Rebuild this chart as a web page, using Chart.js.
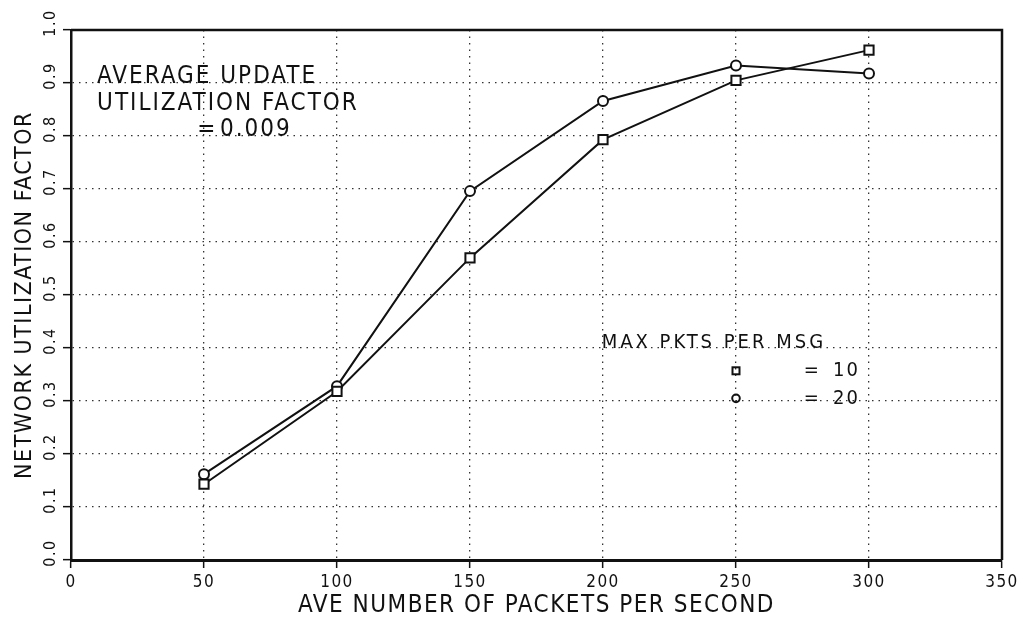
<!DOCTYPE html>
<html>
<head>
<meta charset="utf-8">
<title>Network utilization factor</title>
<script src="https://cdn.jsdelivr.net/npm/chart.js@4/dist/chart.umd.min.js"></script>
<style>
    html, body { margin: 0; padding: 0; background: #fff; }
    #wrap { width: 1023px; height: 628px; position: relative; }
</style>
</head>
<body>
<div id="wrap"><canvas id="utilChart"></canvas></div>
<script>
// Packet rate (x) and utilization for the two message sizes
const packetRates = [50, 100, 150, 200, 250, 300];
const util10 = [0.143, 0.318, 0.570, 0.793, 0.905, 0.962];
const util20 = [0.162, 0.328, 0.696, 0.866, 0.933, 0.918];

const xTickValues = [0, 50, 100, 150, 200, 250, 300, 350];
const yTickValues = [0.0, 0.1, 0.2, 0.3, 0.4, 0.5, 0.6, 0.7, 0.8, 0.9, 1.0];

const noteLines = ['AVERAGE UPDATE', 'UTILIZATION FACTOR', '0.009'];
const legendTitle = 'MAX PKTS PER MSG';
const legendLabels = ['10', '20'];

const INK = '#111';
const FONT = "'DejaVu Sans Condensed', 'DejaVu Sans', sans-serif";

Chart.defaults.font.family = FONT;
Chart.defaults.color = INK;

function toPoints(xs, ys) {
    return xs.map((x, i) => ({ x: x, y: ys[i] }));
}

// plotter lettering is widely spaced
const spacingPlugin = {
    id: 'spacing',
    beforeDraw(chart) {
        chart.ctx.letterSpacing = '1.5px';
    }
};

// box around the plot plus the text notes and the key
const framePlugin = {
    id: 'frame',
    afterDatasetsDraw(chart) {
        const { ctx, chartArea: a, scales: { x, y } } = chart;
        ctx.save();
        ctx.strokeStyle = INK;
        ctx.lineWidth = 2.5;
        ctx.beginPath();
        ctx.moveTo(a.left, a.top);
        ctx.lineTo(a.right, a.top);
        ctx.lineTo(a.right, a.bottom);
        ctx.stroke();

        ctx.fillStyle = INK;
        ctx.textBaseline = 'alphabetic';
        ctx.textAlign = 'left';
        ctx.letterSpacing = '2px';
        ctx.font = '24px ' + FONT;
        ctx.fillText(noteLines[0], x.getPixelForValue(9.8), y.getPixelForValue(0.9));
        ctx.fillText(noteLines[1], x.getPixelForValue(9.8), y.getPixelForValue(0.849));
        ctx.fillText('=', x.getPixelForValue(47.5), y.getPixelForValue(0.8));
        ctx.fillText(noteLines[2], x.getPixelForValue(56), y.getPixelForValue(0.8));

        // key
        ctx.font = '20px ' + FONT;
        ctx.letterSpacing = '3px';
        ctx.fillText(legendTitle, x.getPixelForValue(199.5), y.getPixelForValue(0.4));
        const mx = x.getPixelForValue(250);
        const rowY = [y.getPixelForValue(0.357), y.getPixelForValue(0.305)];
        ctx.lineWidth = 2;
        ctx.strokeRect(mx - 3.5, rowY[0] - 3.5, 7, 7);
        ctx.beginPath();
        ctx.arc(mx, rowY[1], 3.8, 0, Math.PI * 2);
        ctx.stroke();
        ctx.textBaseline = 'middle';
        ctx.letterSpacing = '2px';
        legendLabels.forEach((t, i) => {
            ctx.fillText('=', x.getPixelForValue(275.5), rowY[i]);
            ctx.fillText(t, x.getPixelForValue(286.5), rowY[i]);
        });
        ctx.restore();
    }
};

const ctx = document.getElementById('utilChart').getContext('2d');
new Chart(ctx, {
    type: 'line',
    data: {
        datasets: [
            {
                label: '10',
                data: toPoints(packetRates, util10),
                borderColor: INK,
                borderWidth: 2,
                tension: 0,
                pointStyle: 'rect',
                pointRadius: 6.5,
                pointBorderWidth: 2,
                pointBorderColor: INK,
                pointBackgroundColor: '#fff'
            },
            {
                label: '20',
                data: toPoints(packetRates, util20),
                borderColor: INK,
                borderWidth: 2,
                tension: 0,
                pointStyle: 'circle',
                pointRadius: 5,
                pointBorderWidth: 2,
                pointBorderColor: INK,
                pointBackgroundColor: '#fff'
            }
        ]
    },
    options: {
        responsive: true,
        maintainAspectRatio: false,
        animation: false,
        layout: { padding: { top: 30, right: 21, bottom: 0, left: 0 } },
        plugins: {
            legend: { display: false },
            tooltip: { enabled: false }
        },
        scales: {
            x: {
                type: 'linear',
                min: 0,
                max: 350,
                afterFit: (scale) => { scale.height = 68; },
                afterBuildTicks: (scale) => {
                    scale.ticks = xTickValues.map(v => ({ value: v }));
                },
                ticks: {
                    autoSkip: false,
                    maxRotation: 0,
                    padding: 4,
                    font: { size: 17 },
                    color: INK
                },
                grid: {
                    color: '#333',
                    lineWidth: 1.3,
                    tickLength: 8,
                    tickColor: INK,
                    tickWidth: 1.5
                },
                border: { display: true, color: INK, width: 3, dash: [1.5, 5] },
                title: {
                    display: true,
                    text: 'AVE NUMBER OF PACKETS PER SECOND',
                    font: { size: 24 },
                    color: INK,
                    padding: { top: 0, bottom: 8 }
                }
            },
            y: {
                type: 'linear',
                min: 0,
                max: 1,
                afterFit: (scale) => { scale.width = 71; },
                afterBuildTicks: (scale) => {
                    scale.ticks = yTickValues.map(v => ({ value: v }));
                },
                ticks: {
                    autoSkip: false,
                    minRotation: 90,
                    maxRotation: 90,
                    crossAlign: 'center',
                    padding: 1,
                    labelOffset: -7,
                    font: { size: 16 },
                    color: INK,
                    callback: (v) => Number(v).toFixed(1)
                },
                grid: {
                    color: '#333',
                    lineWidth: 1.3,
                    tickLength: 8,
                    tickColor: INK,
                    tickWidth: 1.5
                },
                border: { display: true, color: INK, width: 2.5, dash: [1.5, 5] },
                title: {
                    display: true,
                    text: 'NETWORK UTILIZATION FACTOR',
                    font: { size: 23 },
                    color: INK,
                    padding: { top: 11, bottom: 0 }
                }
            }
        }
    },
    plugins: [spacingPlugin, framePlugin]
});
</script>
</body>
</html>
